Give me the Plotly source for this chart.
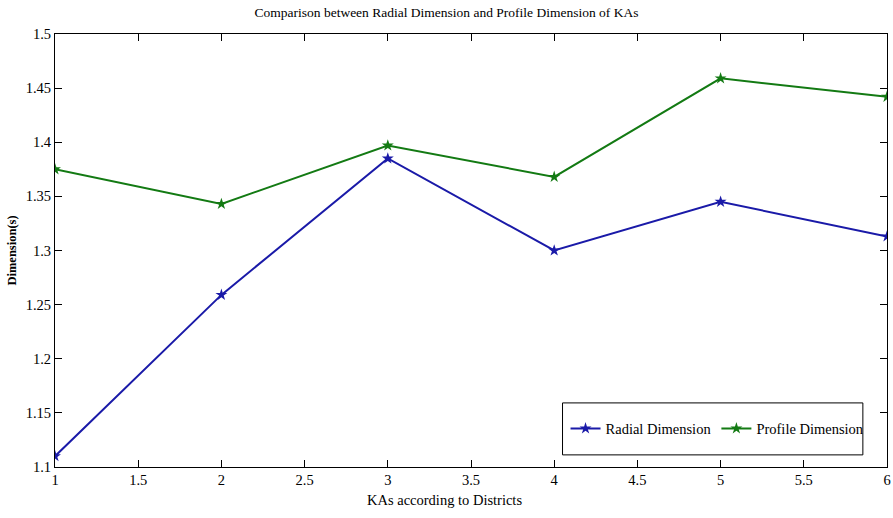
import plotly.graph_objects as go

# KA index (district order) and the two dimension series
districts = [1, 2, 3, 4, 5, 6]
radial_dimension = [1.110, 1.259, 1.385, 1.300, 1.345, 1.313]
profile_dimension = [1.375, 1.343, 1.397, 1.368, 1.459, 1.442]

x_ticks = [1, 1.5, 2, 2.5, 3, 3.5, 4, 4.5, 5, 5.5, 6]
y_ticks = [1.1, 1.15, 1.2, 1.25, 1.3, 1.35, 1.4, 1.45, 1.5]

serif = "Liberation Serif"

fig = go.Figure()
fig.add_trace(go.Scatter(
    x=districts, y=radial_dimension, mode="lines+markers",
    name="Radial Dimension",
    line=dict(color="#1a1aa8", width=2),
    marker=dict(symbol="star", size=9, color="#1a1aa8"),
))
fig.add_trace(go.Scatter(
    x=districts, y=profile_dimension, mode="lines+markers",
    name="Profile Dimension",
    line=dict(color="#137a13", width=2),
    marker=dict(symbol="star", size=9, color="#137a13"),
))

axis_common = dict(
    showgrid=False, zeroline=False, showline=True, linecolor="black", linewidth=1,
    mirror="ticks", ticks="inside", ticklen=7, tickcolor="black", tickwidth=1,
    ticklabeloverflow="allow",
    tickfont=dict(family=serif, size=14.5, color="black"),
)

fig.update_layout(
    width=893, height=518,
    margin=dict(l=55, r=2, t=34, b=51),
    paper_bgcolor="white", plot_bgcolor="white",
    title=dict(
        text="Comparison between Radial Dimension and Profile Dimension of KAs",
        x=0.5, xref="container", xanchor="center", y=0.977, yanchor="middle",
        font=dict(family=serif, size=13.5, color="black"),
    ),
    xaxis=dict(
        range=[1, 6], tickvals=x_ticks, ticktext=[f"{v:g}" for v in x_ticks],
        **axis_common,
    ),
    yaxis=dict(
        range=[1.1, 1.5], tickvals=y_ticks, ticktext=[f"{v:g}" for v in y_ticks],
        title=dict(text="<b>Dimension(s)</b>", standoff=6,
                   font=dict(family=serif, size=12.5, color="black")),
        **axis_common,
    ),
    legend=dict(
        orientation="h", x=0.979, xanchor="right", y=0.052, yanchor="bottom",
        bgcolor="rgba(0,0,0,0)", borderwidth=0,
        font=dict(family=serif, size=14.5, color="black"),
        itemwidth=30,
    ),
    showlegend=True,
    shapes=[dict(
        type="rect", xref="paper", yref="paper",
        x0=0.610, x1=0.971, y0=0.028, y1=0.148,
        line=dict(color="black", width=1), fillcolor="white", layer="below",
    )],
    annotations=[dict(
        text="KAs according to Districts", xref="paper", yref="paper",
        x=(446.5 - 55) / 836, y=-0.076, xanchor="center", yanchor="middle",
        showarrow=False, font=dict(family=serif, size=14.5, color="black"),
    )],
)

fig.write_html("out.html")
